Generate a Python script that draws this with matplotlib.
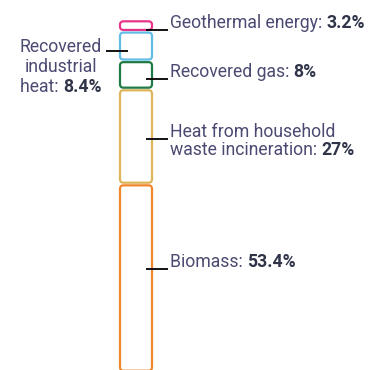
import matplotlib
matplotlib.use("Agg")
import matplotlib.pyplot as plt
from matplotlib.patches import FancyBboxPatch

# ---- data ----
categories = ["Biomass", "Heat from household\nwaste incineration", "Recovered gas",
              "Recovered\nindustrial\nheat", "Geothermal energy"]
values = [53.4, 27.0, 8.0, 8.4, 3.2]
value_labels = ["53.4%", "27%", "8%", "8.4%", "3.2%"]
colors = ["#f0862a", "#dfb45a", "#1f7a45", "#62bde6", "#e8338a"]
sides = ["right", "right", "right", "left", "right"]

W, H = 379, 370
DPI = 100
FONT = ["Roboto", "DejaVu Sans"]
TXT = "#4b4a72"
TXT_B = "#2f3448"
fs = 12.7

fig = plt.figure(figsize=(W / DPI, H / DPI), dpi=DPI)
ax = fig.add_axes([0, 0, 1, 1])
ax.set_axis_off()

# pixel calibration: bar 120..152 px, top of stack at y=20 px, 3.52 px per percent
px_per_x = 32.0
bar_cx = 136.0
ax.set_xlim(-bar_cx / px_per_x, (W - bar_cx) / px_per_x)
ppu = 3.52
top_px = 20.0
ytop = 100 + top_px / ppu
ax.set_ylim(ytop - H / ppu, ytop)

gap = 0.75
bottoms = []
acc = 0.0
for v in values:
    bottoms.append(acc)
    acc += v

bars = ax.bar([0] * len(values), [v - gap for v in values], width=1.0,
              bottom=[b + gap / 2 for b in bottoms], align="center")
aspect = px_per_x / ppu
for rect, col in zip(bars, colors):
    x, y = rect.get_x(), rect.get_y()
    w, h = rect.get_width(), rect.get_height()
    rect.remove()
    p = FancyBboxPatch((x, y), w, h, boxstyle="round,pad=0,rounding_size=0.11",
                       mutation_aspect=aspect, facecolor="white", edgecolor=col,
                       linewidth=1.6)
    ax.add_patch(p)

# label layout (pixel offsets of leader line relative to segment centre, + = down)
line_off_px = [-9, 2, 4, 5, 4.5]


def px(dx):
    return dx / px_per_x


def pair(x, y, normal, bold):
    t = ax.text(x, y, normal, fontsize=fs, family=FONT, color=TXT, va="baseline", ha="left")
    a = ax.annotate(bold, xy=(1, 0), xycoords=t, xytext=(0, 0), textcoords="offset points",
                    fontsize=fs, family=FONT, fontweight="bold", color=TXT_B,
                    va="bottom", ha="left")
    return t, a


centered = []
for cat, v, b, lab, side, off in zip(categories, values, bottoms, value_labels, sides, line_off_px):
    yc = b + v / 2 - off / ppu
    lines = cat.split("\n")
    n = len(lines)
    if side == "right":
        ax.plot([px(10), px(32)], [yc, yc], color="black", lw=1.3, solid_capstyle="butt")
        tx = px(34)
        for i, ln in enumerate(lines):
            yy = yc + (2 - 18.5 * i) / ppu
            if i < n - 1:
                ax.text(tx, yy, ln, fontsize=fs, family=FONT, color=TXT, va="baseline", ha="left")
            else:
                pair(tx, yy, ln + ": ", lab)
    else:
        ax.plot([px(-30), px(-8)], [yc, yc], color="black", lw=1.3, solid_capstyle="butt")
        cx = px(61 - bar_cx)
        for i, ln in enumerate(lines):
            yy = yc - (1 + 20 * i) / ppu
            if i < n - 1:
                ax.text(cx, yy, ln, fontsize=fs, family=FONT, color=TXT, va="baseline", ha="center")
            else:
                centered.append((cx, pair(cx, yy, ln + ": ", lab)))

# centre mixed-weight lines
fig.canvas.draw()
r = fig.canvas.get_renderer()
for cx, (t, a) in centered:
    w1 = t.get_window_extent(r).width
    w2 = a.get_window_extent(r).width
    x0, y0 = t.get_position()
    t.set_position((cx - px((w1 + w2) / 2), y0))

fig.savefig("out.png", dpi=DPI, facecolor="white")
